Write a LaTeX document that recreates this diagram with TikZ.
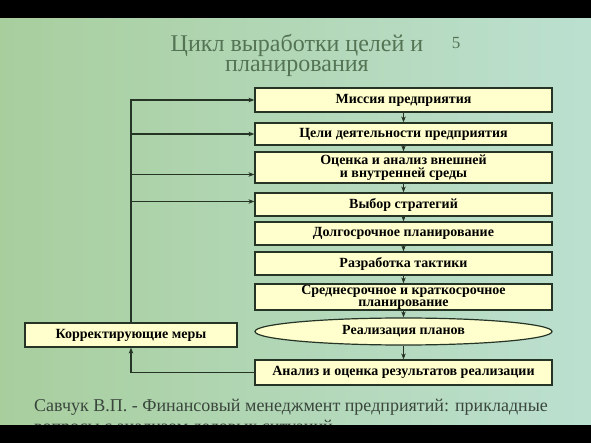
\documentclass[tikz,border=0pt]{standalone}
\usepackage{fontspec}
\setmainfont{Liberation Serif}
\usetikzlibrary{shapes.geometric,arrows.meta}
\definecolor{boxfill}{RGB}{255,255,206}
\definecolor{boxline}{RGB}{38,52,38}
\definecolor{titlegreen}{RGB}{84,116,84}
\definecolor{notegrey}{RGB}{58,70,60}
\definecolor{bgleft}{RGB}{168,206,158}
\definecolor{bgright}{RGB}{188,224,208}

\begin{document}
\begin{tikzpicture}[x=1pt,y=-1pt,
  stage/.style={draw=boxline,line width=1.2pt,fill=boxfill,minimum width=297pt,inner sep=0pt,
    align=center,font=\bfseries\fontsize{14}{12}\selectfont},
  flow/.style={draw=boxline,line width=1.2pt,-{Stealth[length=6pt,width=4.5pt]}},
  note/.style={anchor=base west,inner sep=0pt,text=notegrey,font=\fontsize{18}{18}\selectfont}]
% background and bands
\useasboundingbox (0,0) rectangle (591,443);
\fill[left color=bgleft,right color=bgright] (0,18) rectangle (591,425);
% title
\node[anchor=north,inner sep=0pt,align=center,text=titlegreen,font=\fontsize{24}{20.5}\selectfont] (title) at (297,34) {Цикл выработки целей и\\планирования};
\node[anchor=base,inner sep=0pt,text=titlegreen,font=\fontsize{17}{17}\selectfont] (slide) at (456,49) {5};
% stages
\node[stage,minimum height=24pt] (mission) at (403.5,100) {Миссия предприятия};
\node[stage,minimum height=22pt] (goals) at (403.5,134) {Цели деятельности предприятия};
\node[stage,minimum height=31pt,font=\bfseries\fontsize{14}{13.5}\selectfont] (assess) at (403.5,167.5) {Оценка и анализ внешней\\и внутренней среды};
\node[stage,minimum height=23pt] (choice) at (403.5,204.5) {Выбор стратегий};
\node[stage,minimum height=23pt] (longterm) at (403.5,233.5) {Долгосрочное планирование};
\node[stage,minimum height=23pt] (tactics) at (403.5,263.5) {Разработка тактики};
\node[stage,minimum height=26pt] (midterm) at (403.5,297) {Среднесрочное и краткосрочное\\планирование};
\node[stage,ellipse,minimum height=27pt] (realize) at (403.5,331.5) {Реализация планов};
\node[stage,minimum height=25pt] (review) at (403.5,372.5) {Анализ и оценка результатов реализации};
\node[stage,minimum width=212pt,minimum height=24pt] (corr) at (131,335) {Корректирующие меры};
\coordinate (assessin) at ([yshift=-7pt]assess.west);
\coordinate (choicein) at ([yshift=3pt]choice.west);
% main chain
\draw[flow] (mission) -- (goals);
\draw[flow] (goals) -- (assess);
\draw[flow] (assess) -- (choice);
\draw[flow] (choice) -- (longterm);
\draw[flow] (longterm) -- (tactics);
\draw[flow] (tactics) -- (midterm);
\draw[flow] (midterm) -- (realize);
\draw[flow] (realize) -- (review);
% feedback
\draw[flow] (review.west) -| (corr.south);
\draw[flow] (corr.north) |- (mission.west);
\draw[flow] (corr.north |- goals.west) -- (goals.west);
\draw[flow] (corr.north |- assessin) -- (assessin);
\draw[flow] (corr.north |- choicein) -- (choicein);
% source
\node[note] (src1) at (34,411) {Савчук В.П. - Финансовый менеджмент предприятий: прикладные};
\node[note] (src2) at (34,432) {вопросы с анализом деловых ситуаций};
\fill[black] (0,0) rectangle (591,18);
\fill[black] (0,425) rectangle (591,443);
\end{tikzpicture}
\end{document}
